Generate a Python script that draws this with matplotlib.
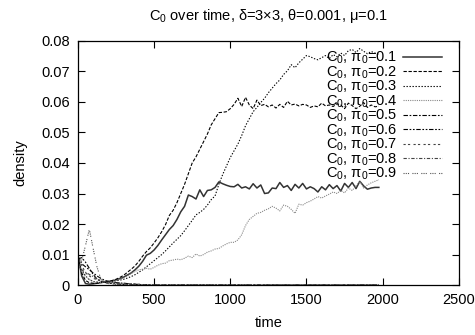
import numpy as np
import matplotlib
matplotlib.use('Agg')
import matplotlib.pyplot as plt

plt.rcParams['font.family'] = ['Liberation Sans', 'DejaVu Sans']
plt.rcParams['mathtext.fontset'] = 'custom'
plt.rcParams['mathtext.rm'] = 'Liberation Sans'
plt.rcParams['mathtext.default'] = 'regular'
plt.rcParams['font.size'] = 10.5

# sampling times of the long runs
TIME = np.arange(0, 2000, 25)

C0_pi01 = [0.0100, 0.0030, 0.0005, 0.0003, 0.0004, 0.0006, 0.0008, 0.0010,
           0.0012, 0.0014, 0.0017, 0.0021, 0.0026, 0.0033, 0.0040, 0.0050,
           0.0062, 0.0078, 0.0098, 0.0104, 0.0115, 0.0130, 0.0148, 0.0165,
           0.0182, 0.0195, 0.0215, 0.0240, 0.0258, 0.0295, 0.0290, 0.0282,
           0.0312, 0.0290, 0.0310, 0.0312, 0.0320, 0.0338, 0.0332, 0.0327,
           0.0323, 0.0322, 0.0330, 0.0318, 0.0322, 0.0315, 0.0332, 0.0318,
           0.0328, 0.0300, 0.0302, 0.0318, 0.0316, 0.0336, 0.0320, 0.0326,
           0.0310, 0.0330, 0.0318, 0.0333, 0.0315, 0.0322, 0.0316, 0.0305,
           0.0322, 0.0312, 0.0329, 0.0316, 0.0326, 0.0308, 0.0333, 0.0320,
           0.0336, 0.0316, 0.0340, 0.0325, 0.0314, 0.0318, 0.0320, 0.0320]

C0_pi02 = [0.0090, 0.0040, 0.0015, 0.0008, 0.0006, 0.0006, 0.0008, 0.0010,
           0.0012, 0.0015, 0.0019, 0.0025, 0.0032, 0.0042, 0.0052, 0.0063,
           0.0078, 0.0095, 0.0110, 0.0122, 0.0138, 0.0155, 0.0175, 0.0198,
           0.0228, 0.0245, 0.0270, 0.0300, 0.0330, 0.0365, 0.0400, 0.0420,
           0.0445, 0.0470, 0.0495, 0.0525, 0.0545, 0.0565, 0.0566, 0.0568,
           0.0578, 0.0592, 0.0612, 0.0585, 0.0615, 0.0590, 0.0578, 0.0606,
           0.0588, 0.0592, 0.0584, 0.0590, 0.0580, 0.0592, 0.0582, 0.0602,
           0.0590, 0.0593, 0.0587, 0.0592, 0.0590, 0.0582, 0.0587, 0.0584,
           0.0596, 0.0587, 0.0590, 0.0585, 0.0594, 0.0590, 0.0578, 0.0596,
           0.0588, 0.0578, 0.0586, 0.0598, 0.0582, 0.0590, 0.0584, 0.0586]

C0_pi03 = [0.0080, 0.0050, 0.0030, 0.0018, 0.0012, 0.0010, 0.0009, 0.0010,
           0.0011, 0.0012, 0.0014, 0.0016, 0.0019, 0.0023, 0.0028, 0.0034,
           0.0042, 0.0050, 0.0060, 0.0070, 0.0080, 0.0090, 0.0100, 0.0112,
           0.0125, 0.0138, 0.0150, 0.0162, 0.0178, 0.0195, 0.0212, 0.0230,
           0.0238, 0.0248, 0.0262, 0.0280, 0.0292, 0.0330, 0.0362, 0.0390,
           0.0418, 0.0440, 0.0462, 0.0490, 0.0522, 0.0545, 0.0568, 0.0582,
           0.0598, 0.0612, 0.0630, 0.0645, 0.0660, 0.0672, 0.0690, 0.0702,
           0.0722, 0.0712, 0.0728, 0.0740, 0.0752, 0.0748, 0.0742, 0.0738,
           0.0745, 0.0752, 0.0742, 0.0755, 0.0748, 0.0760, 0.0752, 0.0768,
           0.0772, 0.0762, 0.0775, 0.0766, 0.0758, 0.0765, 0.0760, 0.0756]

C0_pi04 = [0.0070, 0.0045, 0.0028, 0.0018, 0.0012, 0.0009, 0.0008, 0.0009,
           0.0010, 0.0012, 0.0015, 0.0019, 0.0024, 0.0030, 0.0038, 0.0045,
           0.0050, 0.0052, 0.0055, 0.0052, 0.0058, 0.0065, 0.0070, 0.0072,
           0.0080, 0.0082, 0.0085, 0.0083, 0.0088, 0.0095, 0.0090, 0.0102,
           0.0095, 0.0100, 0.0108, 0.0112, 0.0118, 0.0120, 0.0128, 0.0135,
           0.0140, 0.0140, 0.0148, 0.0165, 0.0195, 0.0215, 0.0225, 0.0235,
           0.0238, 0.0245, 0.0250, 0.0258, 0.0252, 0.0243, 0.0262, 0.0258,
           0.0248, 0.0235, 0.0265, 0.0262, 0.0270, 0.0275, 0.0282, 0.0290,
           0.0285, 0.0292, 0.0298, 0.0305, 0.0300, 0.0310, 0.0302, 0.0318,
           0.0310, 0.0325, 0.0340, 0.0318, 0.0328, 0.0335, 0.0340, 0.0345]

# the high pi0 runs die out early, then stay at zero
TIME_SHORT = [0, 25, 50, 75, 100, 125, 150, 175, 200, 250, 300, 350, 400, 450, 500, 1975]
C0_pi05 = [0.0095, 0.0070, 0.0060, 0.0050, 0.0040, 0.0030, 0.0022, 0.0016,
           0.0012, 0.0008, 0.0006, 0.0004, 0.0002, 0.0001, 0.0, 0.0]
C0_pi06 = [0.0085, 0.0090, 0.0075, 0.0055, 0.0035, 0.0020, 0.0012, 0.0009,
           0.0006, 0.0004, 0.0002, 0.0001, 0.0, 0.0, 0.0, 0.0]
C0_pi07 = [0.0100, 0.0065, 0.0040, 0.0030, 0.0022, 0.0018, 0.0014, 0.0012,
           0.0010, 0.0008, 0.0006, 0.0004, 0.0003, 0.0001, 0.0, 0.0]
C0_pi08 = [0.0075, 0.0050, 0.0042, 0.0035, 0.0028, 0.0020, 0.0015, 0.0011,
           0.0008, 0.0005, 0.0003, 0.0001, 0.0, 0.0, 0.0, 0.0]
C0_pi09 = [0.0050, 0.0080, 0.0130, 0.0183, 0.0120, 0.0060, 0.0020, 0.0010,
           0.0005, 0.0002, 0.0001, 0.0, 0.0, 0.0, 0.0, 0.0]

PI0 = ['0.1', '0.2', '0.3', '0.4', '0.5', '0.6', '0.7', '0.8', '0.9']

series = [(TIME, C0_pi01), (TIME, C0_pi02), (TIME, C0_pi03), (TIME, C0_pi04),
          (TIME_SHORT, C0_pi05), (TIME_SHORT, C0_pi06), (TIME_SHORT, C0_pi07),
          (TIME_SHORT, C0_pi08), (TIME_SHORT, C0_pi09)]

# gnuplot-ish mono line types
styles = [
    dict(color='#333333', lw=1.1, ls='-'),
    dict(color='black', lw=0.8, ls=(0, (3, 1.5))),
    dict(color='black', lw=0.8, ls=(0, (1.2, 1.5))),
    dict(color='#888888', lw=0.8, ls=(0, (1, 1))),
    dict(color='black', lw=0.8, ls=(0, (4, 1.5, 1.5, 1.5))),
    dict(color='black', lw=0.8, ls=(0, (4, 1.5, 1.5, 1.5, 1.5, 1.5))),
    dict(color='#444444', lw=0.8, ls=(0, (2, 2, 2, 3))),
    dict(color='#444444', lw=0.8, ls=(0, (3, 1.5, 1, 1.5))),
    dict(color='#555555', lw=0.8, ls=(0, (1, 1, 1, 1, 1, 3))),
]

fig = plt.figure(figsize=(4.75, 3.35), dpi=100)
ax = fig.add_axes([0.164, 0.149, 0.802, 0.729])

for (t, v), p, st in zip(series, PI0, styles):
    ax.plot(t, v, label='C$_0$, π$_0$=' + p, **st)

ax.set_xlim(0, 2500)
ax.set_ylim(0, 0.08)
ax.set_xticks([0, 500, 1000, 1500, 2000, 2500])
ax.set_yticks([0, 0.01, 0.02, 0.03, 0.04, 0.05, 0.06, 0.07, 0.08])
ax.set_yticklabels(['0', '0.01', '0.02', '0.03', '0.04', '0.05', '0.06', '0.07', '0.08'])
ax.tick_params(direction='in', top=True, right=True, length=5, width=0.8, pad=6)
for s in ax.spines.values():
    s.set_linewidth(0.9)

ax.set_xlabel('time', labelpad=6)
ax.set_ylabel('density', labelpad=10)
ax.set_title('C$_0$ over time, δ=3×3, θ=0.001, μ=0.1', fontsize=10.5, pad=15)

leg = ax.legend(loc='upper right', frameon=False, markerfirst=False,
                handlelength=2.7, handletextpad=0.4, labelspacing=-0.13,
                borderaxespad=0.2, bbox_to_anchor=(0.98, 1.0))

fig.savefig('out.png', dpi=100)
